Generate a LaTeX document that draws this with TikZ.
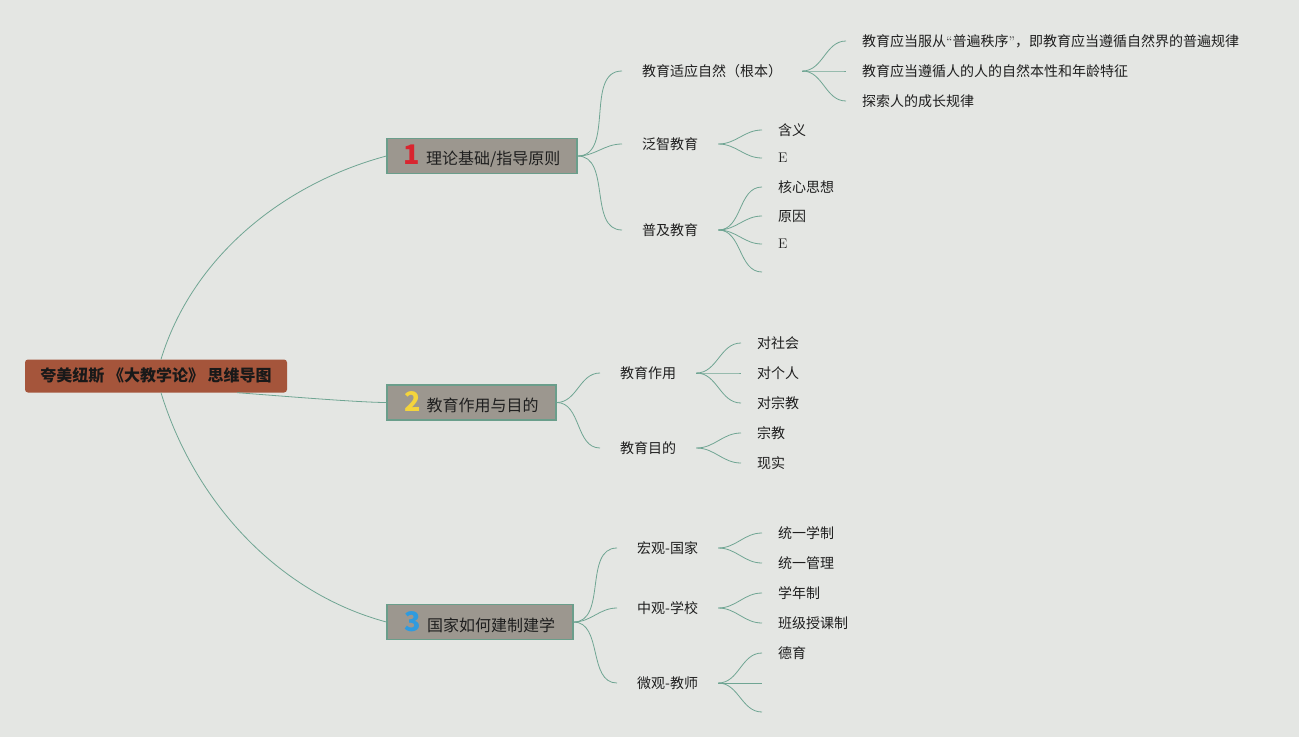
\documentclass[tikz,border=0pt]{standalone}
\usepackage{fontspec}
\newfontfamily\cjk{Noto Sans CJK SC}
\definecolor{bg}{HTML}{E4E6E3}
\definecolor{rootc}{HTML}{A5553B}
\definecolor{mainc}{HTML}{9C978F}
\definecolor{edgec}{HTML}{6A9E8B}
\definecolor{linec}{HTML}{6FA593}
\definecolor{onec}{HTML}{D9252F}
\definecolor{twoc}{HTML}{F4D43C}
\definecolor{threec}{HTML}{2F9BDF}
\newcommand\numtag[2]{{\color{#1}\bfseries\fontsize{27}{27}\selectfont #2}\hspace{6pt}}
\begin{document}
\begin{tikzpicture}[x=1pt,y=-1pt,
 rootnode/.style={fill=rootc,rounded corners=3pt,minimum width=262,minimum height=33,font=\cjk\bfseries\fontsize{16}{19}\selectfont,text=black!90},
 mainnode/.style={fill=mainc,draw=edgec,line width=1.2pt,minimum height=35,inner xsep=4,font=\cjk\fontsize{16}{19}\selectfont,text=black!88},
 topic/.style={anchor=west,inner xsep=20,font=\cjk\fontsize{14}{17}\selectfont,text=black!88},
 leaf/.style={anchor=west,inner xsep=16,font=\cjk\fontsize{14}{17}\selectfont,text=black!88},
 link/.style={draw=linec,line width=0.8pt}]

\fill[bg] (0,0) rectangle (1299,737);
\useasboundingbox (0,0) rectangle (1299,737);

% root and main topics
\node[rootnode] (root) at (156,376) {夸美纽斯 《大教学论》 思维导图};
\node[mainnode,minimum width=190] (n1) at (482,156) {\numtag{onec}{1}理论基础/指导原则};
\node[mainnode,minimum width=169] (n2) at (471.5,402.5) {\numtag{twoc}{2}教育作用与目的};
\node[mainnode,minimum width=186] (n3) at (480,622) {\numtag{threec}{3}国家如何建制建学};

\draw[link] ([xshift=5]root.north) to[out=73,in=195,looseness=0.9] (n1.west);
\draw[link] ([xshift=-50]root.south east) to[out=-4,in=180,looseness=0.5] (n2.west);
\draw[link] ([xshift=5]root.south) to[out=-73,in=165,looseness=0.9] (n3.west);

% 1
\node[topic] (t11) at (622,71) {教育适应自然（根本）};
\node[topic] (t12) at (622,144) {泛智教育};
\node[topic] (t13) at (622,230) {普及教育};
\foreach \t in {t11,t12,t13}{
\draw[link] (n1.east) to[out=0,in=180] (\t.west);
}
\foreach \y/\s [count=\i] in {41/教育应当服从{\rmfamily “}普遍秩序{\rmfamily ”}，即教育应当遵循自然界的普遍规律,71/教育应当遵循人的人的自然本性和年龄特征,101/探索人的成长规律}{
\node[leaf] (a\i) at (846,\y) {\s};
\draw[link] (t11.east) to[out=0,in=180] (a\i.west);
}
\node[leaf] (b1) at (762,130) {含义};
\node[leaf] (b2) at (762,158) {\rmfamily E};
\foreach \b in {b1,b2}{
\draw[link] (t12.east) to[out=0,in=180] (\b.west);
}
\node[leaf] (c1) at (762,187) {核心思想};
\node[leaf] (c2) at (762,216) {原因};
\node[leaf] (c3) at (762,244) {\rmfamily E};
\coordinate (c4) at (762,272);
\foreach \c in {c1.west,c2.west,c3.west,c4}{
\draw[link] (t13.east) to[out=0,in=180] (\c);
}

% 2
\node[topic] (t21) at (600,373) {教育作用};
\node[topic] (t22) at (600,448) {教育目的};
\foreach \t in {t21,t22}{
\draw[link] (n2.east) to[out=0,in=180] (\t.west);
}
\foreach \y/\s [count=\i] in {343/对社会,373/对个人,403/对宗教}{
\node[leaf] (d\i) at (741,\y) {\s};
\draw[link] (t21.east) to[out=0,in=180] (d\i.west);
}
\foreach \y/\s [count=\i] in {433/宗教,463/现实}{
\node[leaf] (e\i) at (741,\y) {\s};
\draw[link] (t22.east) to[out=0,in=180] (e\i.west);
}

% 3
\node[topic] (t31) at (617,548) {宏观-国家};
\node[topic] (t32) at (617,608) {中观-学校};
\node[topic] (t33) at (617,683) {微观-教师};
\foreach \t in {t31,t32,t33}{
\draw[link] (n3.east) to[out=0,in=180] (\t.west);
}
\foreach \y/\s [count=\i] in {533/统一学制,563/统一管理}{
\node[leaf] (f\i) at (762,\y) {\s};
\draw[link] (t31.east) to[out=0,in=180] (f\i.west);
}
\foreach \y/\s [count=\i] in {593/学年制,623/班级授课制}{
\node[leaf] (g\i) at (762,\y) {\s};
\draw[link] (t32.east) to[out=0,in=180] (g\i.west);
}
\node[leaf] (h1) at (762,653) {德育};
\coordinate (h2) at (762,683);
\coordinate (h3) at (762,712);
\foreach \h in {h1.west,h2,h3}{
\draw[link] (t33.east) to[out=0,in=180] (\h);
}

\end{tikzpicture}
\end{document}
